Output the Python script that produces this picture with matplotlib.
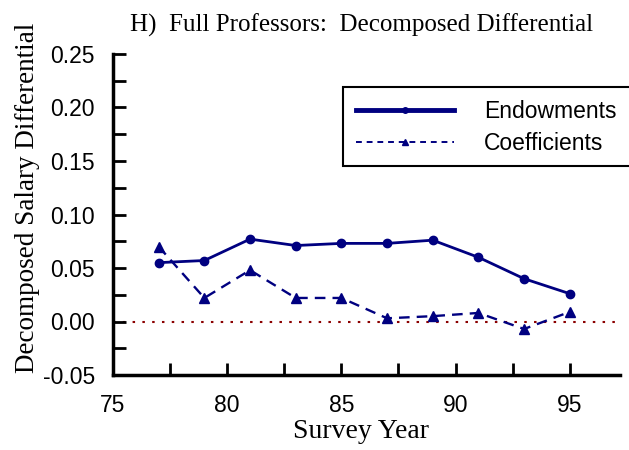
import matplotlib.pyplot as plt
from matplotlib.lines import Line2D
from matplotlib.patches import Rectangle
from matplotlib.ticker import MultipleLocator

years = [77, 79, 81, 83, 85, 87, 89, 91, 93, 95]
endowments = [0.055, 0.057, 0.077, 0.071, 0.073, 0.073, 0.076, 0.060, 0.040, 0.026]
coefficients = [0.070, 0.022, 0.048, 0.022, 0.022, 0.003, 0.005, 0.008, -0.007, 0.009]

NAVY = "#000080"
SERIF = "Liberation Serif"
SANS = "Liberation Sans"

fig = plt.figure(figsize=(6.29, 4.5), dpi=100)
ax = fig.add_axes([113 / 629, 75 / 450, 507 / 629, 321 / 450])

ax.axhline(0, color="#8b0000", lw=1.5, ls=(0, (1.2, 3.5)), zorder=1)
ax.plot(years, endowments, color=NAVY, lw=2, marker="o", ms=6, zorder=3)
ax.plot(years, coefficients, color=NAVY, lw=1.7, ls=(0, (4.5, 3)), marker="^", ms=7, zorder=3)

ax.set_xlim(75, 97.2)
ax.set_ylim(-0.05, 0.25)
ax.xaxis.set_major_locator(MultipleLocator(5))
ax.xaxis.set_minor_locator(MultipleLocator(2.5))
ax.yaxis.set_major_locator(MultipleLocator(0.05))
ax.yaxis.set_minor_locator(MultipleLocator(0.025))
ax.yaxis.set_major_formatter(plt.FuncFormatter(lambda v, p: f"{v:.2f}"))

for side in ("top", "right"):
    ax.spines[side].set_visible(False)
for side in ("left", "bottom"):
    ax.spines[side].set_linewidth(2.5)
ax.tick_params(which="both", direction="in", length=9, width=2, labelsize=16.5)
ax.tick_params(axis="x", pad=14)
ax.tick_params(axis="y", pad=13)
for lab in ax.get_xticklabels() + ax.get_yticklabels():
    lab.set_fontfamily(SANS)

fig.text(361 / 629, 1 - 431 / 450, "Survey Year", fontfamily=SERIF, fontsize=20,
         ha="center", va="center")
fig.text(28 / 629, 1 - 198 / 450, "Decomposed Salary Differential", rotation=90,
         fontfamily=SERIF, fontsize=19.5, ha="center", va="center")
fig.text(130 / 629, 1 - 32 / 450, "H)  Full Professors:  Decomposed Differential",
         fontfamily=SERIF, fontsize=18, ha="left", va="baseline")

# legend box runs off the right edge of the figure, as in the original
ax.add_patch(Rectangle((343 / 629, 1 - 166 / 450), 300 / 629, 79 / 450,
                       transform=fig.transFigure, facecolor="white",
                       edgecolor="black", lw=1.5, zorder=4, clip_on=False))
handles = [
    Line2D([], [], color=NAVY, lw=3.5, marker="o", ms=4),
    Line2D([], [], color=NAVY, lw=1.4, ls=(0, (3, 2.5)), marker="^", ms=5),
]
leg = ax.legend(handles, ["Endowments", "Coefficients"], loc="upper left",
                bbox_to_anchor=(343 / 629, 1 - 87 / 450), bbox_transform=fig.transFigure,
                borderaxespad=0, frameon=False, borderpad=0.55,
                handlelength=4.3, handletextpad=1.3, labelspacing=0.42,
                prop={"family": SANS, "size": 16.5})
leg.set_zorder(6)

fig.savefig("out.png", dpi=100)
